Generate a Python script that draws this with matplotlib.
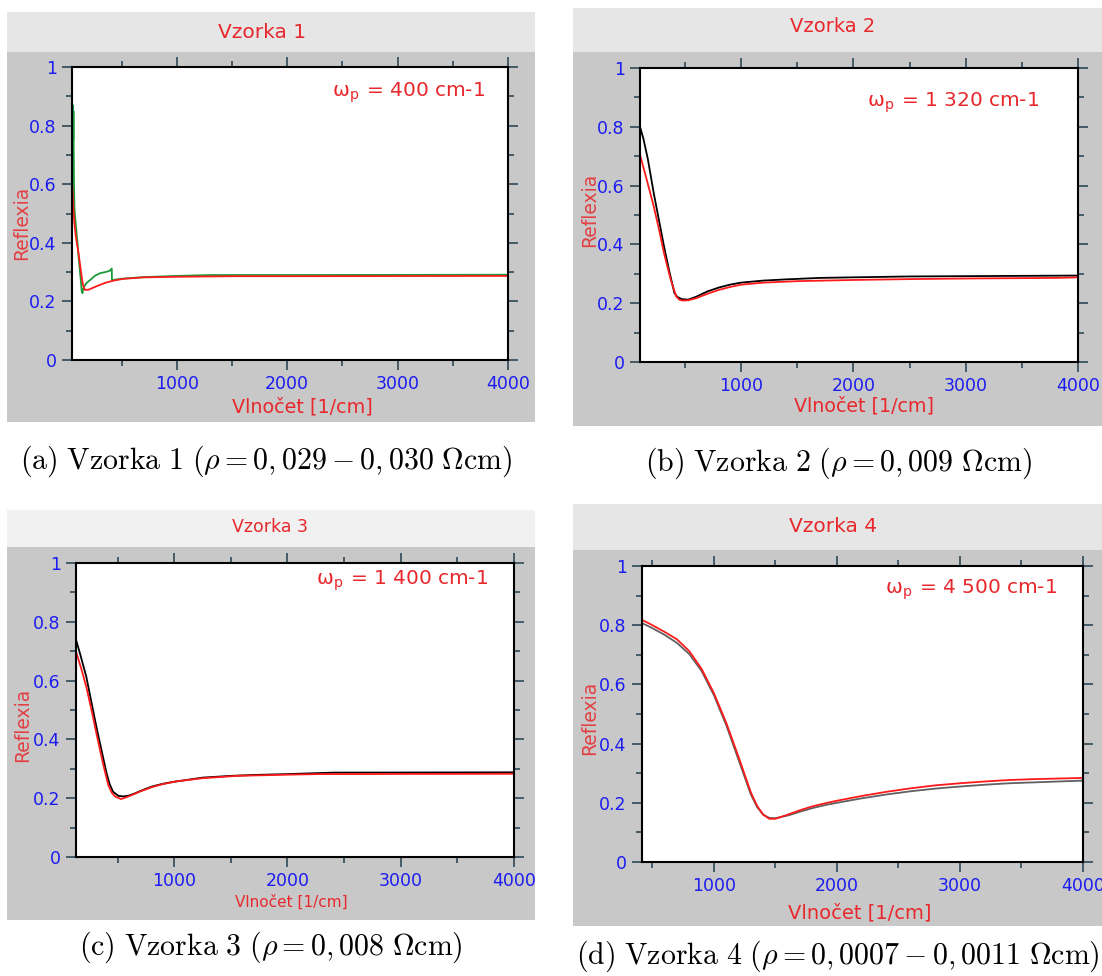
import numpy as np
import matplotlib
matplotlib.use("Agg")
import matplotlib.pyplot as plt
from matplotlib.patches import Rectangle
from matplotlib.ticker import MultipleLocator, FuncFormatter

plt.rcParams['font.family'] = ['DejaVu Sans']
plt.rcParams['mathtext.fontset'] = 'cm'

# --- data ---
titles = ["Vzorka 1", "Vzorka 2", "Vzorka 3", "Vzorka 4"]
omega_p = ["400", "1 320", "1 400", "4 500"]
captions = [
    r"$(\mathrm{a})\ \mathrm{Vzorka}\ 1\ (\rho = 0,029 - 0,030\ \Omega\mathrm{cm})$",
    r"$(\mathrm{b})\ \mathrm{Vzorka}\ 2\ (\rho = 0,009\ \Omega\mathrm{cm})$",
    r"$(\mathrm{c})\ \mathrm{Vzorka}\ 3\ (\rho = 0,008\ \Omega\mathrm{cm})$",
    r"$(\mathrm{d})\ \mathrm{Vzorka}\ 4\ (\rho = 0,0007 - 0,0011\ \Omega\mathrm{cm})$",
]

# sample 1: measured (green, black start) and model (red)
s1_meas_x = [58, 60, 61, 63, 65, 68, 72, 80, 90, 100, 110, 120, 130, 138, 145, 150,
             160, 180, 220, 260, 304, 350, 390, 410, 412, 450, 550, 700, 1000, 1300, 2000, 4000]
s1_meas_y = [0.80, 0.87, 0.75, 0.85, 0.74, 0.60, 0.52, 0.48, 0.44, 0.40, 0.35, 0.31, 0.27, 0.235, 0.228, 0.24,
             0.25, 0.262, 0.275, 0.288, 0.296, 0.300, 0.304, 0.312, 0.272, 0.275, 0.279, 0.283, 0.287, 0.290, 0.290, 0.291]
s1_black_x = [56, 58, 60, 62]
s1_black_y = [0.57, 0.55, 0.52, 0.50]
s1_fit_x = [50, 55, 62, 71, 85, 107, 125, 138, 150, 168, 200, 243, 300, 365, 440, 515, 700, 1000, 1500, 2000, 4000]
s1_fit_y = [0.61, 0.58, 0.52, 0.47, 0.42, 0.37, 0.32, 0.284, 0.255, 0.239, 0.240, 0.247, 0.256, 0.265, 0.272,
            0.277, 0.282, 0.284, 0.286, 0.286, 0.287]

# sample 2
s2_meas_x = [100, 130, 170, 222, 270, 314, 360, 406, 430, 470, 529, 600, 700, 800, 900, 1000, 1200, 1400,
             1700, 2000, 2500, 3000, 4000]
s2_meas_y = [0.80, 0.76, 0.69, 0.575, 0.48, 0.393, 0.31, 0.235, 0.222, 0.214, 0.212, 0.222, 0.240, 0.253,
             0.263, 0.270, 0.277, 0.281, 0.286, 0.288, 0.291, 0.292, 0.294]
s2_fit_x = [100, 160, 222, 270, 314, 370, 422, 450, 480, 530, 600, 700, 800, 900, 1000, 1200, 1500, 2000,
            2500, 3000, 3800, 4000]
s2_fit_y = [0.705, 0.62, 0.53, 0.45, 0.37, 0.285, 0.223, 0.212, 0.209, 0.210, 0.217, 0.232, 0.245, 0.255,
            0.263, 0.270, 0.275, 0.279, 0.282, 0.284, 0.286, 0.288]

# sample 3
s3_meas_x = [134, 164, 224, 270, 313, 360, 403, 430, 460, 507, 552, 600, 657, 730, 806, 900, 1000, 1250,
             1500, 1700, 2000, 2400, 4000]
s3_meas_y = [0.738, 0.698, 0.613, 0.525, 0.443, 0.36, 0.285, 0.248, 0.222, 0.208, 0.206, 0.209, 0.217,
             0.229, 0.240, 0.249, 0.256, 0.270, 0.276, 0.279, 0.282, 0.287, 0.288]
s3_fit_x = [134, 180, 224, 270, 313, 370, 418, 450, 478, 531, 597, 700, 806, 900, 1015, 1250, 1552, 2000,
            2269, 4000]
s3_fit_y = [0.698, 0.64, 0.579, 0.50, 0.421, 0.32, 0.245, 0.218, 0.206, 0.197, 0.206, 0.223, 0.238, 0.248,
            0.257, 0.268, 0.276, 0.280, 0.282, 0.283]

# sample 4
s4_x = [415, 500, 600, 700, 800, 900, 1000, 1100, 1200, 1300, 1350, 1400, 1450, 1500, 1600, 1700, 1800,
        1900, 2000, 2200, 2400, 2600, 2800, 3000, 3200, 3400, 3600, 3800, 4000]
s4_meas_y = [0.807, 0.79, 0.767, 0.740, 0.702, 0.645, 0.563, 0.462, 0.345, 0.228, 0.186, 0.16, 0.149,
             0.148, 0.157, 0.170, 0.182, 0.192, 0.200, 0.215, 0.228, 0.239, 0.248, 0.255, 0.261, 0.266,
             0.269, 0.272, 0.275]
s4_fit_y = [0.818, 0.80, 0.777, 0.752, 0.712, 0.652, 0.57, 0.47, 0.355, 0.235, 0.19, 0.16, 0.146, 0.146,
            0.160, 0.175, 0.188, 0.198, 0.207, 0.223, 0.237, 0.249, 0.259, 0.266, 0.272, 0.277, 0.280,
            0.282, 0.284]

# --- layout (pixels of the 1102x976 picture) ---
W, H = 1102, 976
RED = '#e8282c'
BLUE = '#1c1cf0'
TICK = '#2f4858'
panels = [(7, 12, 535, 422), (573, 8, 1102, 426), (7, 510, 535, 920), (573, 504, 1102, 926)]
bar_bottom = [52, 52, 547, 550]
bar_color = ['#e6e6e6', '#e6e6e6', '#f1f1f1', '#e6e6e6']
axes_px = [(72, 67, 508, 360), (640, 68, 1078, 362), (76, 563, 514, 857), (642, 566, 1083, 862)]
xmins = [50, 100, 133, 415]
title_xy = [(262, 33), (833, 27), (270, 527), (833, 526)]
title_size = [14.5, 14, 12.5, 14.5]
xlabel_xy = [(302, 407), (864, 406), (291, 902), (860, 913)]
xlabel_size = [13.8, 13.7, 11, 14]
ylabel_xy = [(22, 223), (590, 210), (23, 725), (590, 718)]
note_xy = [(485, 93), (1039, 103), (488, 581), (1057, 590)]
caption_xy = [(266, 461), (838, 463), (271, 947), (838, 956)]


def fbox(x0, y0, x1, y1):
    return [x0 / W, 1 - y1 / H, (x1 - x0) / W, (y1 - y0) / H]


def fxy(x, y):
    return x / W, 1 - y / H


def draw_panel(fig, i, lines):
    x0, y0, x1, y1 = panels[i]
    fig.add_artist(Rectangle((x0 / W, 1 - y1 / H), (x1 - x0) / W, (y1 - bar_bottom[i]) / H,
                             transform=fig.transFigure, facecolor='#c8c8c8', edgecolor='none', zorder=-2))
    fig.add_artist(Rectangle((x0 / W, 1 - bar_bottom[i] / H), (x1 - x0) / W, (bar_bottom[i] - y0) / H,
                             transform=fig.transFigure, facecolor=bar_color[i], edgecolor='none', zorder=-2))

    ax = fig.add_axes(fbox(*axes_px[i]))
    for xs, ys, c in lines:
        ax.plot(xs, ys, color=c, lw=1.3)
    ax.set_xlim(xmins[i], 4000)
    ax.set_ylim(0, 1)
    ax.xaxis.set_major_locator(MultipleLocator(1000))
    ax.xaxis.set_minor_locator(MultipleLocator(500))
    ax.yaxis.set_major_locator(MultipleLocator(0.2))
    ax.yaxis.set_minor_locator(MultipleLocator(0.1))
    ax.yaxis.set_major_formatter(FuncFormatter(lambda v, p: '%g' % round(v, 2)))
    ax.tick_params(which='both', direction='out', top=True, right=True, color=TICK, width=1.2)
    ax.tick_params(which='major', length=7, labelsize=12.5, labelcolor=BLUE, pad=4)
    ax.tick_params(which='minor', length=4)
    for sp in ax.spines.values():
        sp.set_linewidth(1.5)
        sp.set_color('black')

    fig.text(*fxy(*title_xy[i]), titles[i], color=RED, fontsize=title_size[i], ha='center', va='center')
    fig.text(*fxy(*xlabel_xy[i]), "Vlnočet [1/cm]", color=RED, fontsize=xlabel_size[i], ha='center', va='center')
    fig.text(*fxy(*ylabel_xy[i]), "Reflexia", color=RED, fontsize=13.5, ha='center', va='center',
             rotation=90, alpha=0.85)
    fig.text(*fxy(*note_xy[i]), r"ω$_\mathregular{p}$ = " + omega_p[i] + " cm-1", color=RED,
             fontsize=14.5, ha='right', va='center')
    fig.text(*fxy(*caption_xy[i]), captions[i], fontsize=21.5, ha='center', va='center')
    return ax


def main():
    fig = plt.figure(figsize=(W / 100, H / 100), dpi=100)
    draw_panel(fig, 0, [(s1_black_x, s1_black_y, 'black'),
                        (s1_meas_x, s1_meas_y, '#1a9a3a'),
                        (s1_fit_x, s1_fit_y, '#ff1a1a')])
    draw_panel(fig, 1, [(s2_meas_x, s2_meas_y, 'black'),
                        (s2_fit_x, s2_fit_y, '#ff1a1a')])
    draw_panel(fig, 2, [(s3_meas_x, s3_meas_y, 'black'),
                        (s3_fit_x, s3_fit_y, '#ff1a1a')])
    draw_panel(fig, 3, [(s4_x, s4_meas_y, '#606060'),
                        (s4_x, s4_fit_y, '#ff1a1a')])
    fig.savefig("out.png", dpi=100)


if __name__ == "__main__":
    main()
